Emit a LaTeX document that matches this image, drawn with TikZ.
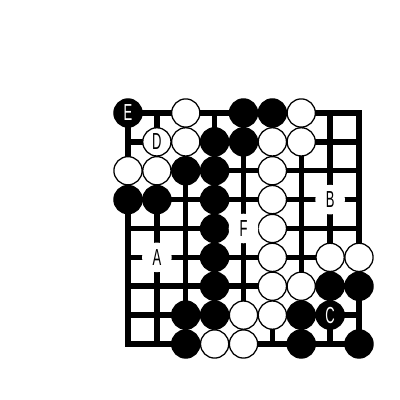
\documentclass[tikz,border=0pt]{standalone}
\usepackage{fontspec}
\setmainfont{Liberation Sans}
\newcommand{\lbl}[1]{\scalebox{0.56}[1]{\fontsize{16.5}{16.5}\selectfont #1}}
\begin{document}
\begin{tikzpicture}[x=0.7219cm, y=-0.7219cm,
  stone/.style={circle, minimum size=0.705cm, inner sep=0pt, line width=0.9pt, draw=black},
  blackstone/.style={stone, fill=black, text=white},
  whitestone/.style={stone, fill=white, text=black},
  spot/.style={circle, minimum size=0.74cm, inner sep=0pt, fill=white, text=black}]
  \useasboundingbox (-4.433,-3.913) rectangle (9.42,9.94);
  \begin{scope}[line width=3.9pt, line cap=rect]
    \foreach \i in {0,...,8}{
      \draw (\i,0) -- (\i,8);
      \draw (0,\i) -- (8,\i);
    }
  \end{scope}
  \foreach \c/\r in {4/0, 5/0, 3/1, 4/1, 2/2, 3/2, 0/3, 1/3, 3/3, 3/4, 3/5, 3/6, 7/6, 8/6,
                     2/7, 3/7, 6/7, 2/8, 6/8, 8/8}{
    \node[blackstone] (b\c\r) at (\c,\r) {};
  }
  \foreach \c/\r in {2/0, 6/0, 2/1, 5/1, 6/1, 0/2, 1/2, 5/2, 5/3, 5/4, 5/5, 7/5, 8/5,
                     5/6, 6/6, 4/7, 5/7, 3/8, 4/8}{
    \node[whitestone] (w\c\r) at (\c,\r) {};
  }
  \node[blackstone] (stoneE) at (0,0) {\lbl{E}};
  \node[whitestone] (stoneD) at (1,1) {\lbl{D}};
  \node[blackstone] (stoneC) at (7,7) {\lbl{C}};
  \node[spot] (spotA) at (1,5) {\lbl{A}};
  \node[spot] (spotB) at (7,3) {\lbl{B}};
  \node[spot] (spotF) at (4,4) {\lbl{F}};
\end{tikzpicture}
\end{document}
